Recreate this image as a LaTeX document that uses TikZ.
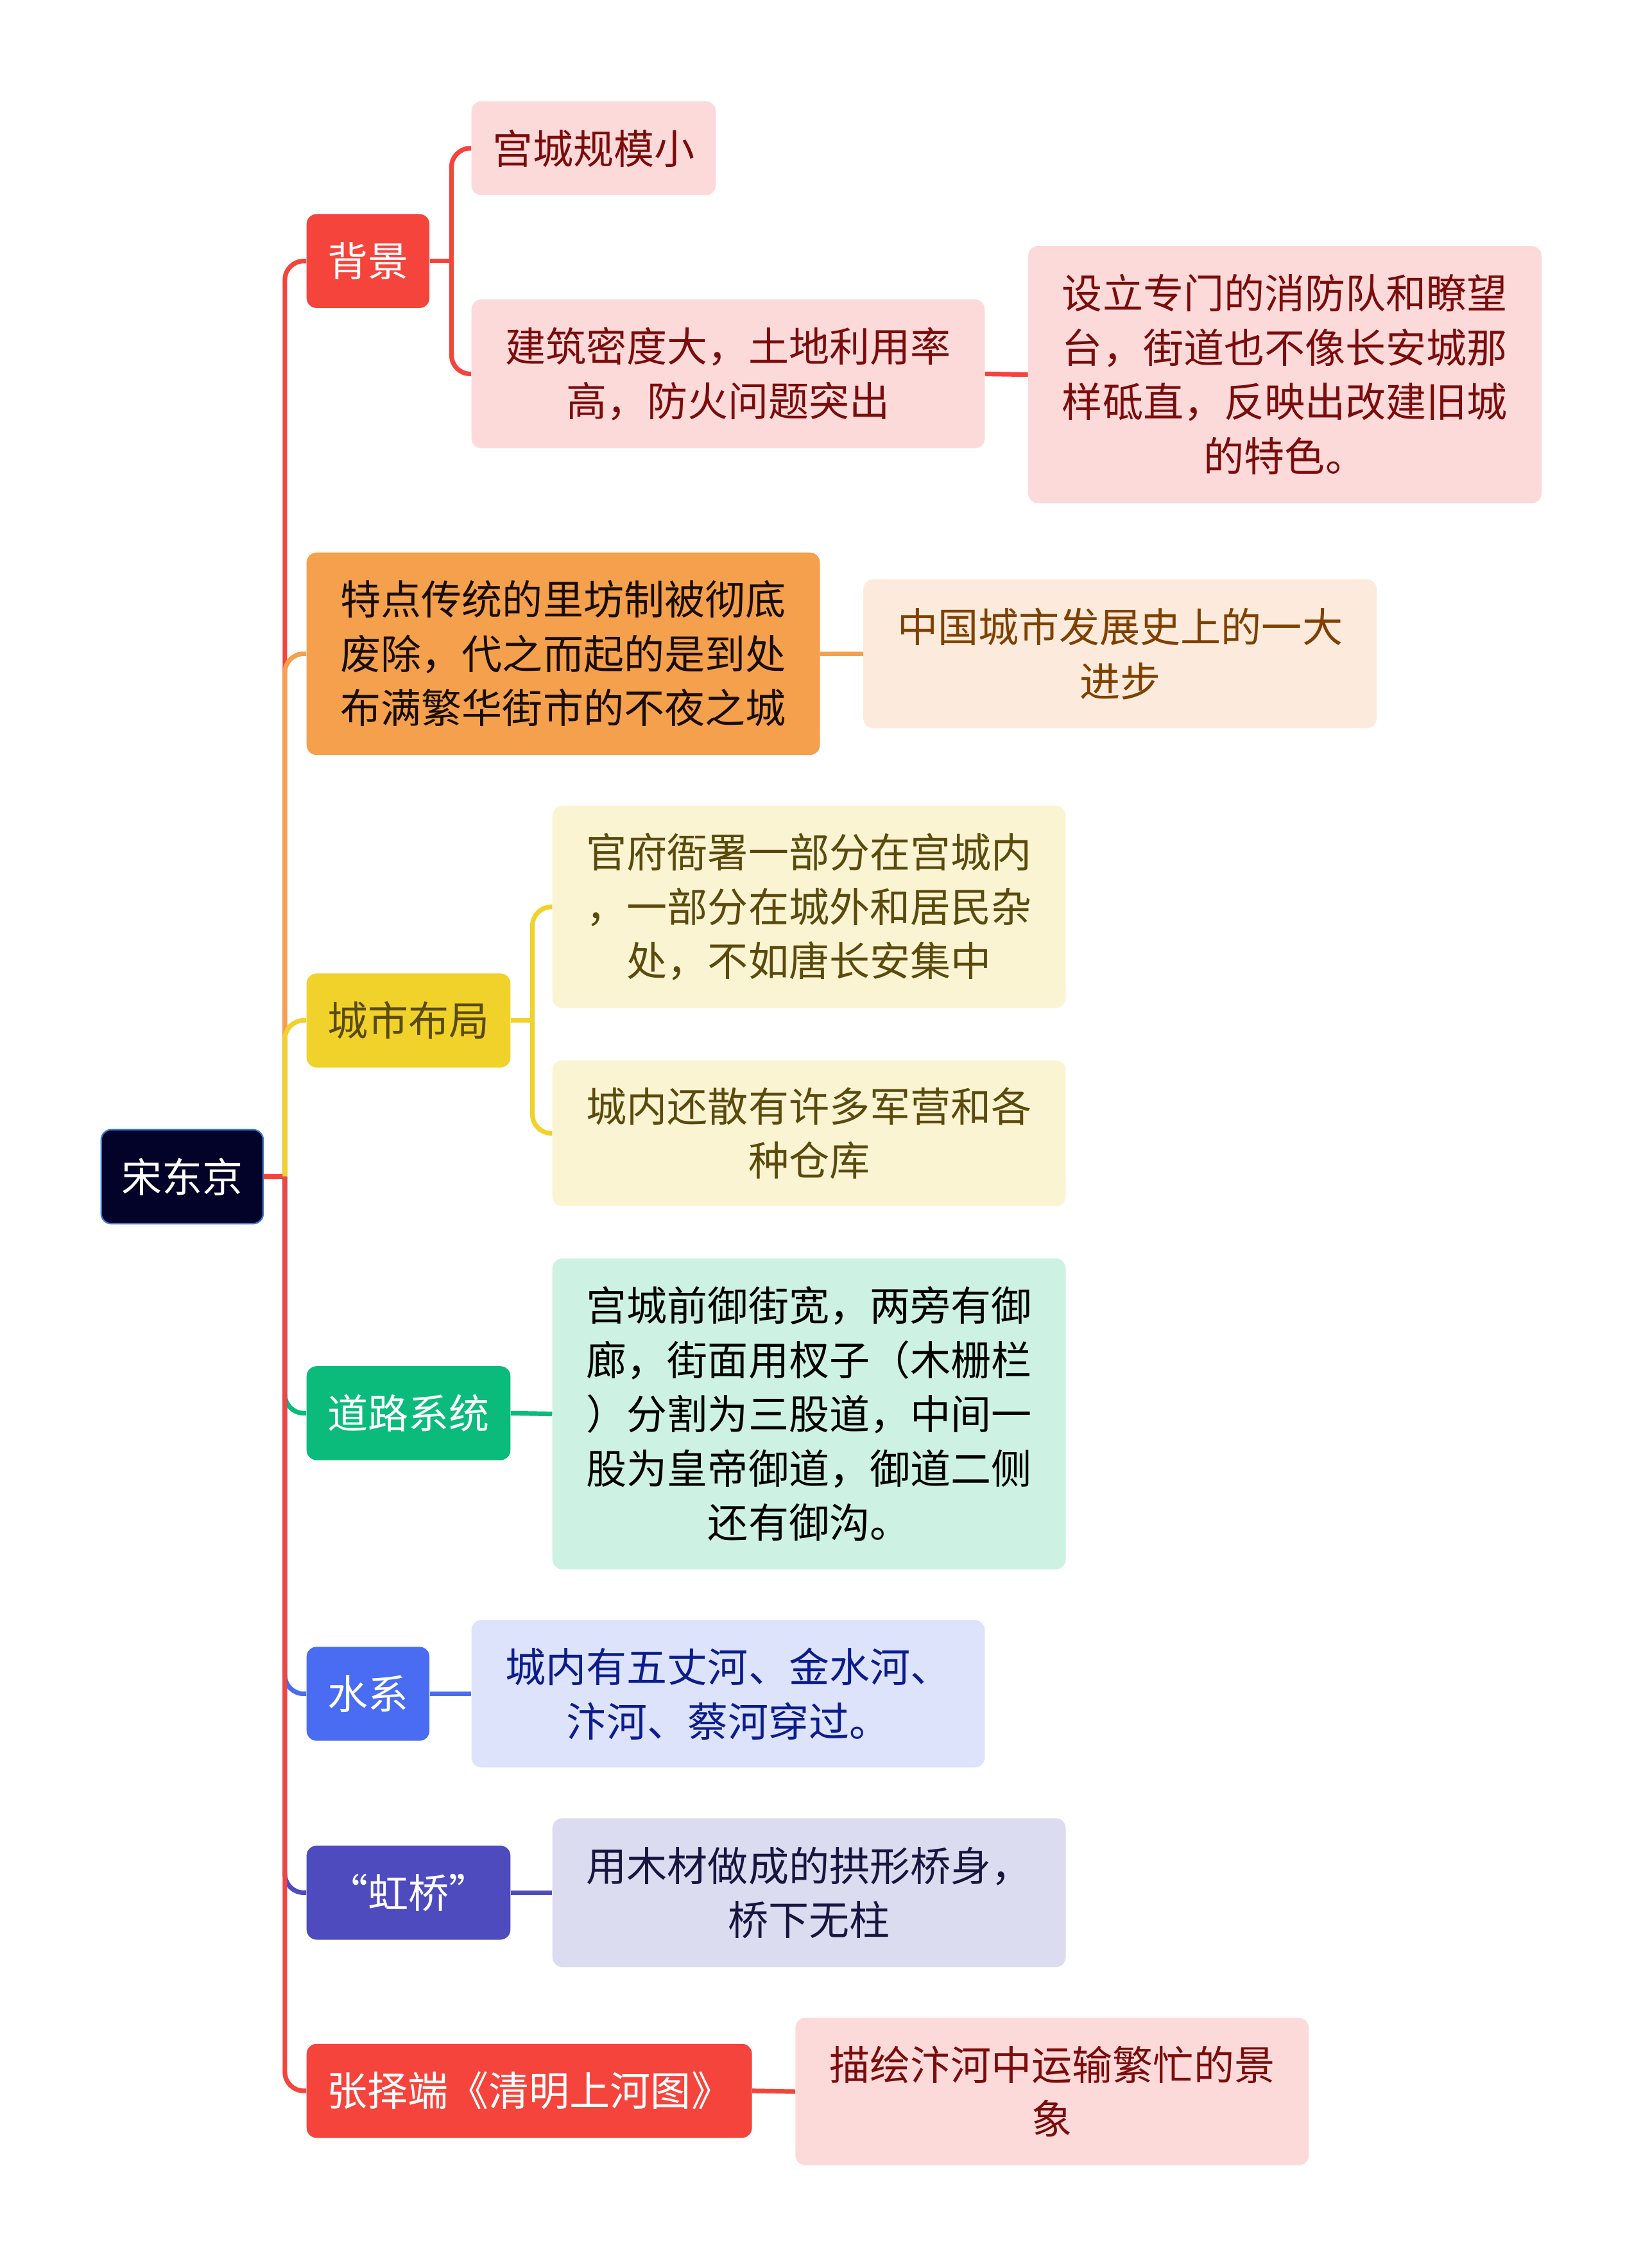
\documentclass[tikz,border=0pt]{standalone}
\usepackage{fontspec}
\setmainfont{Noto Sans CJK SC}
\definecolor{rootC}{HTML}{03032A}
\definecolor{rootB}{HTML}{3A7BD8}
\definecolor{redD}{HTML}{F5443C}
\definecolor{redL}{HTML}{FDDADA}
\definecolor{redT}{HTML}{7B0C0C}
\definecolor{oraD}{HTML}{F4A04C}
\definecolor{oraL}{HTML}{FCEBDC}
\definecolor{oraT}{HTML}{7F4000}
\definecolor{yelD}{HTML}{F0D22A}
\definecolor{yelL}{HTML}{FBF4D3}
\definecolor{yelT}{HTML}{5A4A0C}
\definecolor{greD}{HTML}{0BBB7C}
\definecolor{greL}{HTML}{CDF2E3}
\definecolor{bluD}{HTML}{4A6CF3}
\definecolor{bluL}{HTML}{DCE3FB}
\definecolor{bluT}{HTML}{0D1C8C}
\definecolor{indD}{HTML}{4E4BBF}
\definecolor{indL}{HTML}{DCDCF0}
\definecolor{indT}{HTML}{16163F}
\begin{document}
\begin{tikzpicture}[x=1pt,y=-1pt,
  box/.style={rounded corners=7pt,inner xsep=0pt,inner ysep=0pt,align=center,
    font=\fontsize{28}{37.5}\selectfont},
  topic/.style={box,minimum height=65pt,text=white},
  sub/.style={box,text width=355pt},
  link/.style={line width=3.2pt,rounded corners=13pt}]
\useasboundingbox (0,0) rectangle (1136,1568);
% Zentrum
\node[box,fill=rootC,draw=rootB,line width=1pt,text=white,text width=112pt,minimum height=65pt] (sdj) at (126,813.5) {宋东京};
\coordinate (tr) at (197,813.5);
% erste Ebene
\node[topic,fill=redD,text width=85pt] (bj) at (254.5,180.5) {背景};
\node[topic,fill=oraD,text=black!80!oraT,text width=355pt,minimum height=140pt] (td) at (389.5,452) {特点传统的里坊制被彻底\\废除，代之而起的是到处\\布满繁华街市的不夜之城};
\node[topic,fill=yelD,text=yelT,text width=141pt] (cs) at (282.5,705.5) {城市布局};
\node[topic,fill=greD,text width=141pt] (dl) at (282.5,977) {道路系统};
\node[topic,fill=bluD,text width=85pt] (sx) at (254.5,1171) {水系};
\node[topic,fill=indD,text width=141pt] (hq) at (282.5,1308.5) {“虹桥”};
\node[topic,fill=redD,text width=308pt] (zz) at (366,1445.5) {张择端《清明上河图》};
% zweite Ebene
\node[box,fill=redL,text=redT,text width=169pt,minimum height=65pt] (gc) at (410.5,102.5) {宫城规模小};
\node[sub,fill=redL,text=redT,minimum height=103pt] (jz) at (503.5,258.5) {建筑密度大，土地利用率\\高，防火问题突出};
\node[sub,fill=redL,text=redT,minimum height=178pt] (sl) at (888.5,259) {设立专门的消防队和瞭望\\台，街道也不像长安城那\\样砥直，反映出改建旧城\\的特色。};
\node[sub,fill=oraL,text=oraT,minimum height=103pt] (zg) at (774.5,452) {中国城市发展史上的一大\\进步};
\node[sub,fill=yelL,text=yelT,minimum height=140pt] (gf) at (559.5,627) {官府衙署一部分在宫城内\\，一部分在城外和居民杂\\处，不如唐长安集中};
\node[sub,fill=yelL,text=yelT,minimum height=101pt] (cn) at (559.5,783.5) {城内还散有许多军营和各\\种仓库};
\node[sub,fill=greL,text=black,minimum height=215pt] (gq) at (559.5,977.5) {宫城前御街宽，两旁有御\\廊，街面用杈子（木栅栏\\）分割为三股道，中间一\\股为皇帝御道，御道二侧\\还有御沟。};
\node[sub,fill=bluL,text=bluT,minimum height=102pt] (hl) at (503.5,1171) {城内有五丈河、金水河、\\汴河、蔡河穿过。};
\node[sub,fill=indL,text=indT,minimum height=103pt] (ym) at (559.5,1308.5) {用木材做成的拱形桥身，\\桥下无柱};
\node[sub,fill=redL,text=redT,minimum height=102pt] (mh) at (727.5,1446) {描绘汴河中运输繁忙的景\\象};
% Verbindungen
\draw[link,redD] (sdj.east) -- (tr);
\draw[link,redD] (tr) |- (bj.west);
\draw[link,oraD] (tr) |- (td.west);
\draw[link,yelD] (tr) |- (cs.west);
\draw[link,greD] (tr) |- (dl.west);
\draw[link,bluD] (tr) |- (sx.west);
\draw[link,indD] (tr) |- (hq.west);
\draw[link,redD] (tr) |- (zz.west);
\path (bj.east) ++(15,0) coordinate (bjf);
\draw[link,redD] (bj.east) -- (bjf);
\draw[link,redD] (bjf) |- (gc.west);
\draw[link,redD] (bjf) |- (jz.west);
\draw[link,redD] (jz.east) -- (sl.west);
\draw[link,oraD] (td.east) -- (zg.west);
\path (cs.east) ++(15,0) coordinate (csf);
\draw[link,yelD] (cs.east) -- (csf);
\draw[link,yelD] (csf) |- (gf.west);
\draw[link,yelD] (csf) |- (cn.west);
\draw[link,greD] (dl.east) -- (gq.west);
\draw[link,bluD] (sx.east) -- (hl.west);
\draw[link,indD] (hq.east) -- (ym.west);
\draw[link,redD] (zz.east) -- (mh.west);
\end{tikzpicture}
\end{document}
